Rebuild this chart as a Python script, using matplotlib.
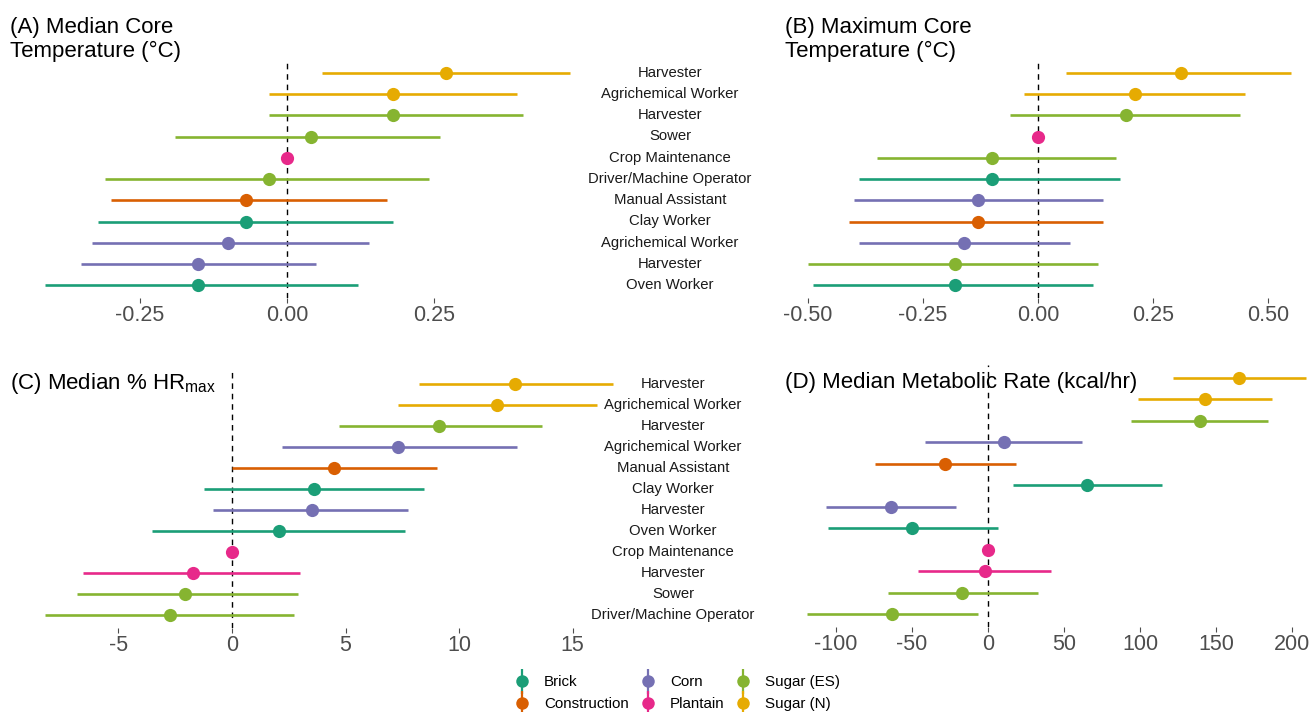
import matplotlib
matplotlib.use("Agg")
import matplotlib.pyplot as plt
from matplotlib.lines import Line2D
from matplotlib.legend_handler import HandlerTuple
from matplotlib.transforms import blended_transform_factory

plt.rcParams["font.family"] = ["Liberation Sans", "DejaVu Sans"]

W, H = 1309, 712

group_colors = {
    "Brick": "#1B9E77",
    "Construction": "#D95F02",
    "Corn": "#7570B3",
    "Plantain": "#E7298A",
    "Sugar (ES)": "#86B431",
    "Sugar (N)": "#E6AB02",
}

# (A) median core temperature
a_labels = ["Harvester", "Agrichemical Worker", "Harvester", "Sower", "Crop Maintenance",
            "Driver/Machine Operator", "Manual Assistant", "Clay Worker",
            "Agrichemical Worker", "Harvester", "Oven Worker"]
a_groups = ["Sugar (N)", "Sugar (N)", "Sugar (ES)", "Sugar (ES)", "Plantain", "Sugar (ES)",
            "Construction", "Brick", "Corn", "Corn", "Brick"]
a_est = [0.271, 0.181, 0.181, 0.040, 0.0, -0.031, -0.070, -0.070, -0.101, -0.151, -0.151]
a_lo = [0.060, -0.030, -0.030, -0.191, 0.0, -0.310, -0.300, -0.321, -0.331, -0.351, -0.412]
a_hi = [0.481, 0.391, 0.401, 0.260, 0.0, 0.241, 0.170, 0.181, 0.140, 0.050, 0.120]

# (B) maximum core temperature
b_groups = ["Sugar (N)", "Sugar (N)", "Sugar (ES)", "Plantain", "Sugar (ES)", "Brick",
            "Corn", "Construction", "Corn", "Sugar (ES)", "Brick"]
b_est = [0.310, 0.210, 0.191, 0.0, -0.101, -0.101, -0.130, -0.130, -0.160, -0.180, -0.180]
b_lo = [0.061, -0.030, -0.061, 0.0, -0.350, -0.390, -0.400, -0.410, -0.390, -0.500, -0.489]
b_hi = [0.550, 0.450, 0.439, 0.0, 0.170, 0.179, 0.141, 0.141, 0.070, 0.130, 0.119]

# (C) median % HRmax
c_labels = ["Harvester", "Agrichemical Worker", "Harvester", "Agrichemical Worker",
            "Manual Assistant", "Clay Worker", "Harvester", "Oven Worker",
            "Crop Maintenance", "Harvester", "Sower", "Driver/Machine Operator"]
c_groups = ["Sugar (N)", "Sugar (N)", "Sugar (ES)", "Corn", "Construction", "Brick",
            "Corn", "Brick", "Plantain", "Plantain", "Sugar (ES)", "Sugar (ES)"]
c_est = [12.46, 11.66, 9.14, 7.33, 4.50, 3.60, 3.51, 2.09, 0.0, -1.72, -2.05, -2.74]
c_lo = [8.23, 7.33, 4.72, 2.20, 0.0, -1.23, -0.84, -3.53, 0.0, -6.55, -6.85, -8.25]
c_hi = [16.77, 16.06, 13.66, 12.56, 9.03, 8.45, 7.74, 7.63, 0.0, 3.00, 2.91, 2.72]

# (D) median metabolic rate
d_groups = ["Sugar (N)", "Sugar (N)", "Sugar (ES)", "Corn", "Construction", "Brick",
            "Corn", "Brick", "Plantain", "Plantain", "Sugar (ES)", "Sugar (ES)"]
d_est = [165.3, 142.6, 139.4, 10.4, -28.0, 65.3, -63.9, -50.0, 0.0, -2.1, -16.9, -63.4]
d_lo = [121.8, 98.4, 94.4, -41.4, -74.5, 16.2, -106.9, -105.3, 0.0, -46.1, -66.0, -119.4]
d_hi = [209.3, 186.8, 184.3, 61.8, 18.1, 114.6, -20.8, 6.7, 0.0, 41.4, 32.6, -6.7]


def px_rect(left, top, right, bottom):
    return [left / W, 1 - bottom / H, (right - left) / W, (bottom - top) / H]


def panel(fig, box, zero_px, px_per_unit, ticks, ticklabels, groups, est, lo, hi, labels=None, label_x=None):
    left, top, right, bottom = box
    ax = fig.add_axes(px_rect(left, top, right, bottom))
    n = len(est)
    ys = list(range(n))
    ax.set_xlim((left - zero_px) / px_per_unit, (right - zero_px) / px_per_unit)
    ax.set_ylim(n - 1 + 0.6, -0.6)
    ax.axvline(0, color="black", lw=1.0, ls=(0, (4, 3.5)), zorder=1)
    for y, g, e, l, h in zip(ys, groups, est, lo, hi):
        c = group_colors[g]
        ax.plot([l, h], [y, y], color=c, lw=1.9, solid_capstyle="butt", zorder=2)
        ax.plot([e], [y], "o", color=c, ms=9.5, mec="none", zorder=3)
    ax.set_xticks(ticks)
    ax.set_xticklabels(ticklabels)
    ax.set_yticks([])
    ax.tick_params(axis="x", length=3.5, width=0.8, color="#4D4D4D", pad=1.5,
                   labelsize=15.5, labelcolor="#4D4D4D")
    for s in ax.spines.values():
        s.set_visible(False)
    if labels is not None:
        tr = blended_transform_factory(fig.transFigure, ax.transData)
        for y, lab in zip(ys, labels):
            ax.text(label_x / W, y, lab, transform=tr, ha="center", va="center",
                    fontsize=10.7, color="#1A1A1A", clip_on=False)
    return ax


fig = plt.figure(figsize=(W / 100, H / 100), dpi=100)

panel(fig, (18, 60, 596, 298), 287, 588, [-0.25, 0, 0.25], ["-0.25", "0.00", "0.25"],
      a_groups, a_est, a_lo, a_hi, a_labels, 670)
panel(fig, (784, 60, 1309, 298), 1038, 460, [-0.5, -0.25, 0, 0.25, 0.5],
      ["-0.50", "-0.25", "0.00", "0.25", "0.50"], b_groups, b_est, b_lo, b_hi)
panel(fig, (18, 371, 640, 628), 232, 22.7, [-5, 0, 5, 10, 15], ["-5", "0", "5", "10", "15"],
      c_groups, c_est, c_lo, c_hi, c_labels, 673)
panel(fig, (784, 365, 1309, 627), 988, 1.52, [-100, -50, 0, 50, 100, 150, 200],
      ["-100", "-50", "0", "50", "100", "150", "200"], d_groups, d_est, d_lo, d_hi)

title_kw = dict(fontsize=16, color="black", ha="left", va="top", linespacing=1.2)
fig.text(10 / W, 1 - 17 / H, "(A) Median Core\nTemperature (°C)", **title_kw)
fig.text(785 / W, 1 - 17 / H, "(B) Maximum Core\nTemperature (°C)", **title_kw)
fig.text(10 / W, 1 - 371 / H, "(C) Median % HR$_{\\mathregular{max}}$", **title_kw)
fig.text(785 / W, 1 - 372 / H, "(D) Median Metabolic Rate (kcal/hr)", **title_kw)

handles = []
for g, c in group_colors.items():
    dot = Line2D([], [], marker="o", color=c, ms=9, ls="none", mec="none")
    bar = Line2D([], [], marker="|", color=c, ms=18, mew=1.6, ls="none")
    handles.append((bar, dot))
fig.legend(handles, list(group_colors.keys()), ncol=3, loc="center",
           bbox_to_anchor=(676 / W, 1 - 693 / H), frameon=False, fontsize=10.9,
           handler_map={tuple: HandlerTuple(ndivide=1)}, handlelength=1.4,
           handletextpad=0.75, columnspacing=0.55, labelspacing=0.55)

fig.savefig("out.png", dpi=100)
